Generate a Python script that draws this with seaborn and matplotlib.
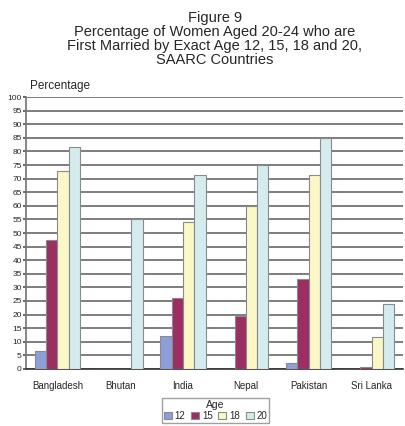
import pandas as pd
import matplotlib.pyplot as plt
import seaborn as sns

countries = ["Bangladesh", "Bhutan", "India", "Nepal", "Pakistan", "Sri Lanka"]
ages = ["12", "15", "18", "20"]
age12 = [6.7, 0, 12.1, 0, 2.0, 0]
age15 = [47.3, 0, 26.1, 19.3, 33.2, 0.7]
age18 = [72.7, 0, 53.9, 60.0, 71.5, 11.8]
age20 = [81.6, 55.2, 71.3, 75.0, 85.0, 23.9]

colors = ["#8e9ed8", "#9b2f63", "#fbf7c6", "#d5ecef"]

rows = []
for age, vals in zip(ages, [age12, age15, age18, age20]):
    for c, v in zip(countries, vals):
        rows.append({"Country": c, "Age": age, "Percentage": v})
df = pd.DataFrame(rows)

sns.set_theme(style="white")
plt.rcParams["font.family"] = ["Liberation Sans", "DejaVu Sans"]

fig = plt.figure(figsize=(4.05, 4.26), dpi=100)
ax = fig.add_axes([0.064, 0.134, 0.931, 0.638])

sns.barplot(data=df, x="Country", y="Percentage", hue="Age", hue_order=ages,
            palette=colors, width=0.72, edgecolor="#8a8a8a", linewidth=0.8,
            saturation=1, ax=ax, zorder=3)

ax.set_ylim(0, 100)
ax.set_yticks(range(0, 101, 5))
ax.yaxis.grid(True, color="#5a5a5a", linewidth=1.1, zorder=0)
ax.set_axisbelow(True)
ax.tick_params(axis="y", labelsize=6, pad=1, length=2, left=True, color="#555555")
ax.tick_params(axis="x", labelsize=7, pad=9, length=0)
ax.set_xlabel("")
ax.set_ylabel("")
for s in ["top", "right"]:
    ax.spines[s].set_visible(False)
ax.spines["left"].set_color("#777777")
ax.spines["bottom"].set_color("#333333")
ax.spines["bottom"].set_linewidth(1.2)

fig.text(0.53, 0.975,
         "Figure 9\nPercentage of Women Aged 20-24 who are\n"
         "First Married by Exact Age 12, 15, 18 and 20,\nSAARC Countries",
         ha="center", va="top", fontsize=10.5, linespacing=1.0)
fig.text(0.074, 0.783, "Percentage", ha="left", va="bottom", fontsize=8.5)

leg = ax.legend(title="Age", ncol=4, loc="center", bbox_to_anchor=(0.503, -0.152),
                fontsize=7, title_fontsize=7.5, frameon=True, handlelength=0.8,
                handleheight=0.8, handletextpad=0.3, columnspacing=0.6,
                borderpad=0.2, labelspacing=0.1, fancybox=False)
leg.get_frame().set_edgecolor("#888888")
leg.get_frame().set_linewidth(1.0)

fig.savefig("out.png", dpi=100)
